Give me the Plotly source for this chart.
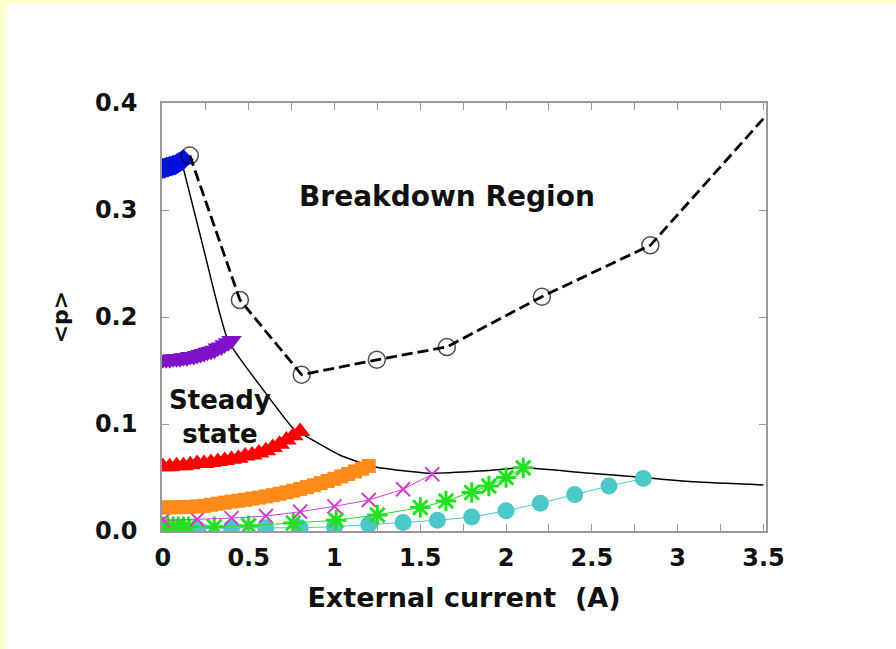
import plotly.graph_objects as go

# ---------------- data ----------------
blue_x = [0, 0.01, 0.02, 0.03, 0.04, 0.05, 0.06, 0.07, 0.08, 0.09, 0.10, 0.11, 0.12]
blue_y = [0.339, 0.339, 0.340, 0.340, 0.341, 0.341, 0.342, 0.342, 0.343, 0.344, 0.345, 0.346, 0.347]

purple_x = [0, 0.02, 0.04, 0.06, 0.08, 0.10, 0.12, 0.14, 0.16, 0.18, 0.20,
            0.22, 0.24, 0.26, 0.28, 0.30, 0.32, 0.34, 0.36, 0.38, 0.40]
purple_y = [0.160, 0.160, 0.160, 0.161, 0.161, 0.161, 0.162, 0.162, 0.163, 0.163, 0.164,
            0.165, 0.166, 0.167, 0.168, 0.169, 0.171, 0.172, 0.174, 0.176, 0.178]

red_x = [0, 0.04, 0.08, 0.12, 0.16, 0.20, 0.24, 0.28, 0.32, 0.36, 0.40,
         0.44, 0.48, 0.52, 0.56, 0.60, 0.64, 0.68, 0.72, 0.76, 0.80]
red_y = [0.060, 0.060, 0.061, 0.061, 0.062, 0.063, 0.063, 0.064, 0.065, 0.066, 0.067,
         0.068, 0.070, 0.071, 0.073, 0.075, 0.078, 0.081, 0.085, 0.089, 0.093]

orange_x = [0, 0.04, 0.08, 0.12, 0.16, 0.20, 0.24, 0.28, 0.32, 0.36, 0.40,
            0.44, 0.48, 0.52, 0.56, 0.60, 0.64, 0.68, 0.72, 0.76, 0.80,
            0.84, 0.88, 0.92, 0.96, 1.00, 1.04, 1.08, 1.12, 1.16, 1.20]
orange_y = [0.0220, 0.0221, 0.0222, 0.0224, 0.0226, 0.0230, 0.0235, 0.0245, 0.0255, 0.0265, 0.0275,
            0.0283, 0.0292, 0.0302, 0.0312, 0.0323, 0.0335, 0.0348, 0.0362, 0.0377, 0.0393,
            0.0410, 0.0428, 0.0447, 0.0467, 0.0488, 0.0510, 0.0533, 0.0557, 0.0582, 0.0608]

magenta_x = [0, 0.2, 0.4, 0.6, 0.8, 1.0, 1.2, 1.4, 1.57]
magenta_y = [0.010, 0.011, 0.012, 0.014, 0.018, 0.023, 0.029, 0.039, 0.053]

green_x = [0, 0.03, 0.06, 0.09, 0.12, 0.15, 0.3, 0.5, 0.76, 1.01, 1.25, 1.5, 1.65, 1.8, 1.9, 2.0, 2.1]
green_y = [0.004, 0.004, 0.004, 0.004, 0.004, 0.004, 0.004, 0.005, 0.0075, 0.010, 0.015,
           0.022, 0.028, 0.036, 0.042, 0.050, 0.059]

cyan_x = [0, 0.1, 0.2, 0.4, 0.6, 0.8, 1.0, 1.2, 1.4, 1.6, 1.8, 2.0, 2.2, 2.4, 2.6, 2.8]
cyan_y = [0.002, 0.002, 0.002, 0.003, 0.003, 0.003, 0.004, 0.006, 0.008, 0.010, 0.013,
          0.019, 0.026, 0.034, 0.042, 0.049]

steady_x = [0.11, 0.24, 0.38, 0.58, 0.77, 0.84, 1.03, 1.23, 1.55, 1.85, 2.1, 2.45, 2.8, 3.1, 3.5]
steady_y = [0.345, 0.262, 0.178, 0.133, 0.094, 0.088, 0.071, 0.060, 0.054, 0.056, 0.059,
            0.0545, 0.050, 0.046, 0.043]

breakdown_x = [0.157, 0.449, 0.809, 1.247, 1.655, 2.209, 2.841, 3.52]
breakdown_y = [0.351, 0.216, 0.146, 0.160, 0.172, 0.219, 0.267, 0.389]

x_tick_vals = [0, 0.5, 1, 1.5, 2, 2.5, 3, 3.5]
x_tick_text = ["0", "0.5", "1", "1.5", "2", "2.5", "3", "3.5"]
y_tick_vals = [0.0, 0.1, 0.2, 0.3, 0.4]
y_tick_text = ["0.0", "0.1", "0.2", "0.3", "0.4"]

FONT = "DejaVu Sans"

fig = go.Figure()

# steady-state boundary (solid)
fig.add_trace(go.Scatter(x=steady_x, y=steady_y, mode="lines",
                         line=dict(color="black", width=1.5, shape="spline", smoothing=0.5)))

# colored series
fig.add_trace(go.Scatter(x=cyan_x, y=cyan_y, mode="lines+markers",
                         line=dict(color="#4cc8c8", width=1),
                         marker=dict(symbol="circle", size=17, color="#4cc8c8")))
fig.add_trace(go.Scatter(x=green_x, y=green_y, mode="lines+markers",
                         line=dict(color="#22e022", width=1),
                         marker=dict(symbol="asterisk-open", size=17,
                                     line=dict(color="#22e022", width=3))))
fig.add_trace(go.Scatter(x=magenta_x, y=magenta_y, mode="lines+markers",
                         line=dict(color="#d040d0", width=1),
                         marker=dict(symbol="x-thin-open", size=14,
                                     line=dict(color="#c030c0", width=2))))
fig.add_trace(go.Scatter(x=orange_x, y=orange_y, mode="markers",
                         marker=dict(symbol="square", size=14, color="#ff8c1a")))
fig.add_trace(go.Scatter(x=red_x, y=red_y, mode="markers",
                         marker=dict(symbol="triangle-up", size=18, color="#ff0000")))
fig.add_trace(go.Scatter(x=purple_x, y=purple_y, mode="markers",
                         marker=dict(symbol="triangle-down", size=18, color="#8010c8")))
fig.add_trace(go.Scatter(x=blue_x, y=blue_y, mode="markers",
                         marker=dict(symbol="diamond", size=16, color="#0010e0")))

# breakdown line (dashed, open circles)
bd_sizes = [17] * (len(breakdown_x) - 1) + [0]
fig.add_trace(go.Scatter(x=breakdown_x, y=breakdown_y, mode="lines+markers",
                         line=dict(color="black", width=2.8, dash="11px,5px"),
                         marker=dict(symbol="circle-open", size=bd_sizes,
                                     line=dict(color="black", width=1.5))))

# page decoration: light yellow strips on left and top edge
W, H = 896, 649
L, R, T, B = 162, 130, 103, 118
pw, ph = W - L - R, H - T - B
def px(xp):
    return (xp - L) / pw
def py(yp):
    return (H - B - yp) / ph

shapes = [
    dict(type="rect", xref="paper", yref="paper", x0=px(0), x1=px(7), y0=py(H), y1=py(0),
         fillcolor="#ffffcc", line=dict(width=0), layer="below"),
    dict(type="rect", xref="paper", yref="paper", x0=px(0), x1=px(W), y0=py(3), y1=py(0),
         fillcolor="#ffffcc", line=dict(width=0), layer="below"),
]

annotations = [
    dict(x=1.657, y=0.313, xref="x", yref="y", text="<b>Breakdown Region</b>", showarrow=False,
         font=dict(family=FONT, size=28, color="#111")),
    dict(x=0.335, y=0.107, xref="x", yref="y", text="<b>Steady<br>state</b>", showarrow=False,
         font=dict(family=FONT, size=26, color="#111")),
]

fig.update_layout(
    width=W, height=H,
    margin=dict(l=L, r=R, t=T, b=B),
    paper_bgcolor="white", plot_bgcolor="white",
    showlegend=False,
    shapes=shapes, annotations=annotations,
    font=dict(family=FONT, color="#111"),
)

axis_common = dict(showgrid=False, zeroline=False, showline=True, linecolor="#999999",
                   linewidth=1.5, mirror="ticks", ticks="inside", ticklen=7,
                   tickcolor="#999999", tickwidth=1.2)

fig.update_xaxes(range=[-0.005, 3.515], tickvals=x_tick_vals, ticktext=x_tick_text,
                 tickfont=dict(family=FONT, size=24, color="#111", weight="bold"),
                 ticklabelstandoff=4,
                 minor=dict(dtick=0.25, tick0=0, ticks="inside", ticklen=7, tickcolor="#999999"),
                 title=dict(text="<b>External current\u00a0\u00a0(A)</b>", standoff=18,
                            font=dict(family=FONT, size=27, color="#111")),
                 **axis_common)
fig.update_yaxes(range=[0, 0.4], tickvals=y_tick_vals, ticktext=y_tick_text,
                 tickfont=dict(family=FONT, size=24, color="#111", weight="bold"),
                 ticklabelstandoff=18,
                 title=dict(text="<b>&lt;p&gt;</b>", standoff=20,
                            font=dict(family=FONT, size=22, color="#111")),
                 **axis_common)

fig.write_html("out.html")
